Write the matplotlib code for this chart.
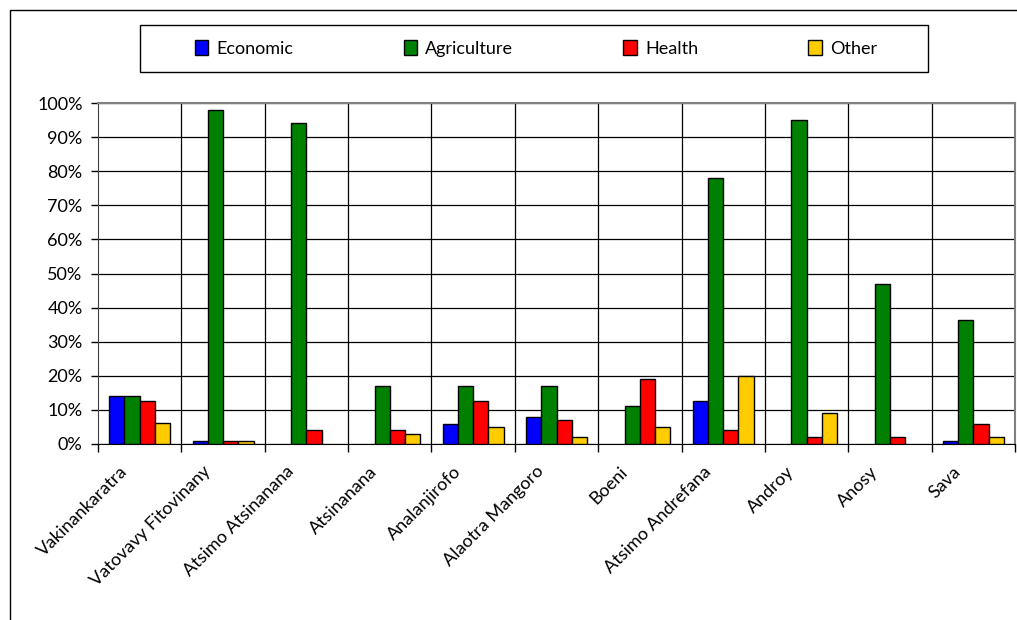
import matplotlib
matplotlib.use("Agg")
import matplotlib.pyplot as plt
import matplotlib.transforms as mtransforms
import numpy as np
from matplotlib.patches import Rectangle
from matplotlib.ticker import FixedLocator, PercentFormatter

regions = ["Vakinankaratra", "Vatovavy Fitovinany", "Atsimo Atsinanana", "Atsinanana",
           "Analanjirofo", "Alaotra Mangoro", "Boeni", "Atsimo Andrefana",
           "Androy", "Anosy", "Sava"]
series_names = ["Economic", "Agriculture", "Health", "Other"]
economic = [14, 1, 0, 0, 6, 8, 0, 12.7, 0, 0, 1]
agriculture = [14, 98, 94, 17, 17, 17, 11, 78, 95, 47, 36.3]
health = [12.7, 1, 4, 4, 12.7, 7, 19, 4, 2, 2, 6]
other = [6.2, 1, 0, 3, 5, 2, 5, 20, 9, 0, 2]
colors = ["#0000FF", "#008000", "#FF0000", "#FFCC00"]

plt.rcParams["font.family"] = ["Lato", "DejaVu Sans"]

fig = plt.figure(figsize=(10.17, 6.2), dpi=100)
ax = fig.add_axes([98 / 1017, 1 - 444 / 620, 917 / 1017, 341 / 620])

x = np.arange(len(regions))
bar_w = 0.183
all_series = [economic, agriculture, health, other]
handles = []
for i, (vals, col, name) in enumerate(zip(all_series, colors, series_names)):
    lw = [1.0 if v > 0 else 0 for v in vals]
    h = ax.bar(x + (i - 1.5) * bar_w, vals, width=bar_w, color=col,
               edgecolor="black", linewidth=lw, label=name, zorder=3)
    handles.append(h)

ax.set_xlim(-0.5, len(regions) - 0.5)
ax.set_ylim(0, 100)
ax.set_yticks(np.arange(0, 101, 10))
ax.yaxis.set_major_formatter(PercentFormatter(decimals=0))
ax.tick_params(axis="y", direction="out", length=5, width=1, labelsize=13, pad=6)

ax.set_xticks(x)
ax.set_xticklabels(regions, rotation=45, ha="right", va="center",
                   rotation_mode="anchor", fontsize=13)
ax.tick_params(axis="x", which="major", length=0, pad=18)
shift = mtransforms.ScaledTranslation(-15 / 100, 0, fig.dpi_scale_trans)
for lbl in ax.get_xticklabels():
    lbl.set_transform(lbl.get_transform() + shift)
ax.xaxis.set_minor_locator(FixedLocator(np.arange(-0.5, len(regions), 1.0)))
ax.tick_params(axis="x", which="minor", direction="out", length=6, width=1)

ax.yaxis.grid(True, color="black", linewidth=0.9, zorder=0)
for b in np.arange(0.5, len(regions) - 0.5, 1.0):
    ax.axvline(b, color="black", linewidth=0.9, zorder=0)
ax.set_axisbelow(True)

for side in ["top", "right"]:
    ax.spines[side].set_color("#808080")
    ax.spines[side].set_linewidth(1.5)
ax.spines["left"].set_color("#404040")
ax.spines["bottom"].set_color("black")

# legend box and outer chart border
fig.patches.append(Rectangle((140 / 1017, 1 - 72 / 620), 788 / 1017, 47 / 620,
                             transform=fig.transFigure, fill=False,
                             edgecolor="black", linewidth=1.0))
fig.patches.append(Rectangle((10 / 1017, -0.1), 1.2, 1 - 10 / 620 + 0.1,
                             transform=fig.transFigure, fill=False,
                             edgecolor="black", linewidth=1.0))
fig.legend(handles=handles, labels=series_names, loc="center",
           bbox_to_anchor=(536 / 1017, 1 - 48.5 / 620), ncol=4, frameon=False,
           fontsize=13, handlelength=0.75, handleheight=0.85, handletextpad=0.45,
           columnspacing=6.1)

fig.savefig("out.png", dpi=100)
